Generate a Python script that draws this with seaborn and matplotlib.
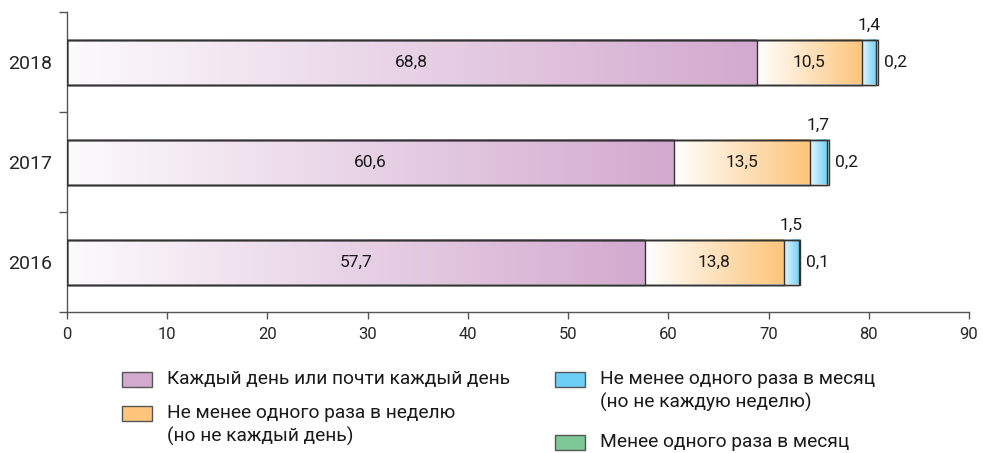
import numpy as np
import pandas as pd
import seaborn as sns
import matplotlib.pyplot as plt
from matplotlib.colors import LinearSegmentedColormap
from matplotlib.patches import Rectangle

years = ['2018', '2017', '2016']
daily = [68.8, 60.6, 57.7]
weekly = [10.5, 13.5, 13.8]
monthly = [1.4, 1.7, 1.5]
rare = [0.2, 0.2, 0.1]

series = ['Каждый день или почти каждый день',
          'Не менее одного раза в неделю\n(но не каждый день)',
          'Не менее одного раза в месяц\n(но не каждую неделю)',
          'Менее одного раза в месяц']
colors = ['#d3a9cf', '#fdc57b', '#6dcff6', '#7dc896']
light = ['#fcfafc', '#ffffff', '#e6f7fd', '#dff3e6']

sns.set_style('white')
plt.rcParams['font.family'] = ['Roboto', 'DejaVu Sans']
plt.rcParams['text.color'] = '#1a1a1a'

df = pd.DataFrame({'year': years, 'daily': daily, 'weekly': weekly,
                   'monthly': monthly, 'rare': rare})
cols = ['daily', 'weekly', 'monthly', 'rare']
cum = df[cols].cumsum(axis=1)

W, H = 983, 453
fig = plt.figure(figsize=(W / 100, H / 100), dpi=100)
ax = fig.add_axes([67 / W, 1 - 312 / H, 902 / W, 300 / H])

# outline bars drawn from largest cumulative to smallest
for c in reversed(cols):
    sns.barplot(x=cum[c], y=df['year'], ax=ax, orient='h', width=0.45,
                facecolor='none', edgecolor='#333333', linewidth=1.0, zorder=3)

# gradient fills per segment
grad = np.linspace(0, 1, 256).reshape(1, -1)
for j, c in enumerate(cols):
    cmap = LinearSegmentedColormap.from_list(c, [light[j], colors[j]])
    for i in range(len(df)):
        start = 0 if j == 0 else cum[cols[j - 1]].iloc[i]
        end = cum[c].iloc[i]
        ax.imshow(grad, cmap=cmap, aspect='auto', zorder=2,
                  extent=(start, end, i + 0.225, i - 0.225), interpolation='bicubic')

fmt = lambda v: f'{v:.1f}'.replace('.', ',')
for i in range(len(df)):
    for j, c in enumerate(cols[:2]):
        start = 0 if j == 0 else cum[cols[j - 1]].iloc[i]
        ax.text((start + cum[c].iloc[i]) / 2, i, fmt(df[c].iloc[i]),
                ha='center', va='center', fontsize=12.5, zorder=4)
    mid = (cum['weekly'].iloc[i] + cum['monthly'].iloc[i]) / 2
    ax.text(mid, i - 0.29, fmt(df['monthly'].iloc[i]), ha='center', va='bottom',
            fontsize=12.5)
    ax.text(cum['rare'].iloc[i] + 0.6, i, fmt(df['rare'].iloc[i]), ha='left',
            va='center', fontsize=12.5)

ax.set_xlim(0, 90)
ax.set_ylim(2.5, -0.5)
ax.set_xticks(range(0, 91, 10))
ax.set_yticks([-0.5, 0.5, 1.5, 2.5], minor=True)
ax.set_yticks(range(3))
ax.set_yticklabels(years)
ax.tick_params(axis='y', which='major', length=0, labelsize=14, pad=11)
ax.tick_params(axis='y', which='minor', length=6, width=1, color='#555555', left=True)
ax.tick_params(axis='x', length=5, width=1, color='#555555', labelsize=12,
               bottom=True, pad=6)
ax.set_xlabel('')
ax.set_ylabel('')
for s in ['top', 'right']:
    ax.spines[s].set_visible(False)
for s in ['left', 'bottom']:
    ax.spines[s].set_color('#555555')
    ax.spines[s].set_linewidth(1)

# legend laid out by hand: swatch aligned with first text line
legend_pos = [(122, 379), (122, 413), (555, 379), (555, 442)]
for k, (px, py) in enumerate(legend_pos):
    fig.patches.append(Rectangle((px / W, 1 - (py + 7.5) / H), 30 / W, 15 / H,
                                 transform=fig.transFigure, facecolor=colors[k],
                                 edgecolor='#555555', linewidth=1))
    for n, line in enumerate(series[k].split('\n')):
        fig.text((px + 45) / W, 1 - (py + 23 * n) / H, line, ha='left',
                 va='center', fontsize=13.8)

fig.savefig('out.png', dpi=100)
